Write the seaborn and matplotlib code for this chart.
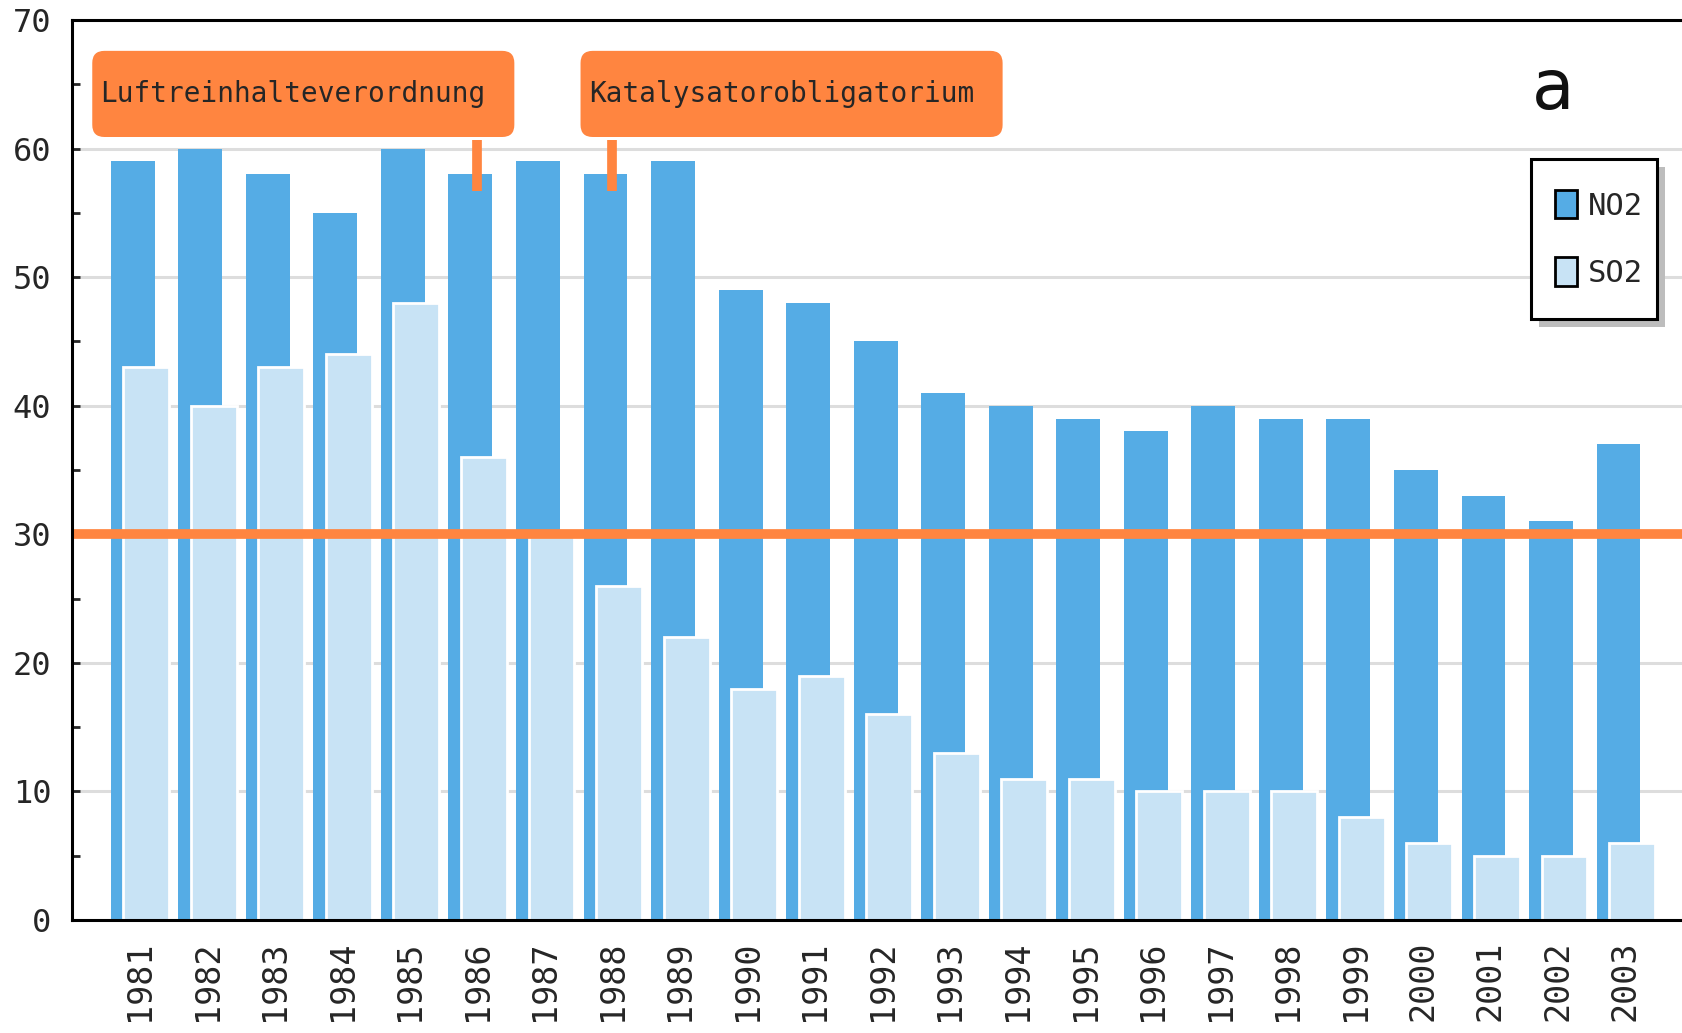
import numpy as np
import matplotlib
matplotlib.use("Agg")
import matplotlib.pyplot as plt
import seaborn as sns
from matplotlib.patches import Patch, FancyBboxPatch, Rectangle
from matplotlib.ticker import MultipleLocator

# data
years = np.arange(1981, 2004)
no2 = [59, 60, 58, 55, 60, 58, 59, 58, 59, 49, 48, 45, 41, 40, 39, 38, 40, 39, 39, 35, 33, 31, 37]
so2 = [43, 40, 43, 44, 48, 36, 30, 26, 22, 18, 19, 16, 13, 11, 11, 10, 10, 10, 8, 6, 5, 5, 6]
series_names = ["NO2", "SO2"]
limit_value = 30
event_labels = ["Luftreinhalteverordnung", "Katalysatorobligatorium"]
event_years = [1986, 1988]
panel_label = "a"

c_no2 = "#55ACE5"
c_so2 = "#C8E3F5"
orange = "#FF8540"

sns.set_style("white")
plt.rcParams["font.family"] = ["DejaVu Sans Mono", "DejaVu Sans"]

fig = plt.figure(figsize=(16.82, 10.33), dpi=100)
ax = fig.add_axes([72 / 1682, 113 / 1033, 1 - 72 / 1682, 900 / 1033])

sns.barplot(x=years, y=no2, native_scale=True, width=0.65, color=c_no2,
            saturation=1, linewidth=0, ax=ax, zorder=2)
sns.barplot(x=years + 0.2, y=so2, native_scale=True, width=0.68, color=c_so2,
            saturation=1, edgecolor="white", linewidth=2, ax=ax, zorder=3)

ax.set_xlim(years[0] - 0.9, years[-1] + 0.94)
ax.set_ylim(0, 70)
ax.set_xticks(years + 0.1, labels=[str(y) for y in years], rotation=90)
ax.set_yticks(range(0, 71, 10))
ax.yaxis.set_minor_locator(MultipleLocator(5))
ax.tick_params(axis="y", which="both", direction="in", length=6, width=2,
               labelsize=23, pad=15, left=True)
ax.tick_params(axis="x", length=0, labelsize=24, pad=15)
ax.set_xlabel("")
ax.set_ylabel("")

ax.yaxis.grid(True, color="#dddddd", lw=2.2)
ax.xaxis.grid(False)
ax.set_axisbelow(True)

for s in ["left", "bottom", "top"]:
    ax.spines[s].set_visible(True)
    ax.spines[s].set_color("black")
    ax.spines[s].set_linewidth(2.2)
    ax.spines[s].set_zorder(10)
ax.spines["right"].set_visible(False)

# limit line
ax.axhline(limit_value, color=orange, lw=7, zorder=4)

# event boxes
box_w = 6.25
box_bottom, box_top = 60.9, 67.6
offsets = [0.65 - box_w, -0.37]
for label, yr, off in zip(event_labels, event_years, offsets):
    x0 = yr + off
    ax.add_patch(FancyBboxPatch((x0, box_bottom), box_w, box_top - box_bottom,
                                boxstyle="round,pad=0,rounding_size=0.18",
                                mutation_aspect=5.25, fc=orange, ec="none",
                                zorder=5))
    ax.text(x0 + 0.12, (box_bottom + box_top) / 2, label, ha="left", va="center",
            fontsize=20, zorder=6)
    ax.plot([yr + 0.1, yr + 0.1], [56.7, 60.65], color=orange, lw=7,
            solid_capstyle="butt", zorder=5)

ax.text(2002.03, 64.6, panel_label, ha="center", va="center", fontsize=50,
        family="DejaVu Sans", color="#111111", zorder=6)

# legend frame with a hard grey shadow
lx0, lx1, ly0, ly1 = 0.9062, 0.9845, 0.6678, 0.8456
ax.add_patch(Rectangle((lx0 + 0.005, ly0 - 0.009), lx1 - lx0, ly1 - ly0,
                       transform=ax.transAxes, fc="#bdbdbd", ec="none",
                       clip_on=False, zorder=6))
ax.add_patch(Rectangle((lx0, ly0), lx1 - lx0, ly1 - ly0, transform=ax.transAxes,
                       fc="white", ec="black", lw=2.2, clip_on=False, zorder=6.1))

handles = [Patch(fc=c_no2, ec="black", lw=2, label=series_names[0]),
           Patch(fc=c_so2, ec="black", lw=2, label=series_names[1])]
leg = ax.legend(handles=handles, loc="center",
                bbox_to_anchor=((lx0 + lx1) / 2 + 0.003, (ly0 + ly1) / 2),
                frameon=False, prop={"size": 22}, handlelength=0.72,
                handleheight=1.05, handletextpad=0.36, labelspacing=1.2,
                borderpad=0)
leg.set_zorder(7)

fig.savefig("out.png", dpi=100)
